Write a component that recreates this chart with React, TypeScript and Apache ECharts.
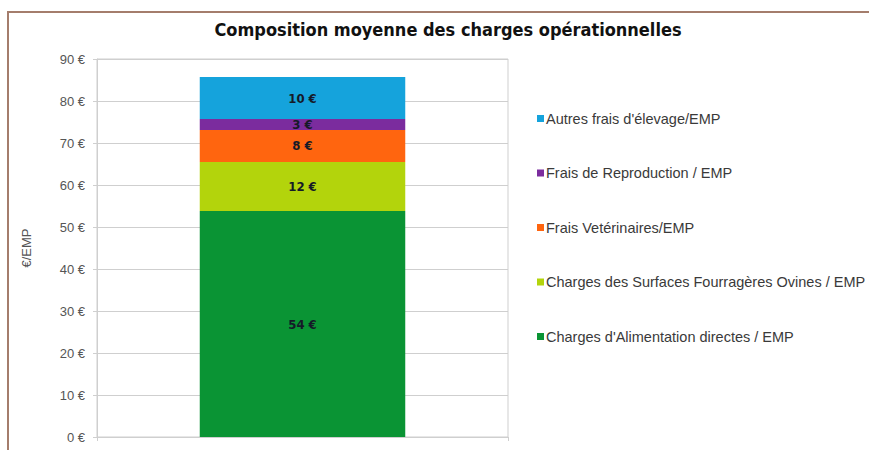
import React, { useEffect, useRef } from "react";
import * as echarts from "echarts";

const categories = [""];
const seriesNames = [
  "Charges d'Alimentation directes / EMP",
  "Charges des Surfaces Fourragères Ovines / EMP",
  "Frais Vetérinaires/EMP",
  "Frais de Reproduction / EMP",
  "Autres frais d'élevage/EMP",
];
const seriesValues = [53.8, 11.7, 7.6, 2.6, 10.0];
const seriesColors = ["#0a9434", "#b3d40c", "#ff650f", "#7b2c9e", "#15a3dc"];
const yTicks = [0, 10, 20, 30, 40, 50, 60, 70, 80, 90];

export default function App() {
  const ref = useRef<HTMLDivElement>(null);
  useEffect(() => {
    if (!ref.current) return;
    const chart = echarts.init(ref.current, undefined, { renderer: "svg" });
    chart.setOption({
      animation: false,
      backgroundColor: "#ffffff",
      title: {
        text: "Composition moyenne des charges opérationnelles",
        left: 443,
        top: 15,
        textAlign: "center",
        textStyle: {
          fontFamily: "'Liberation Sans Narrow', 'DejaVu Sans Condensed', sans-serif",
          fontWeight: "bold",
          fontSize: 18,
          color: "#111",
        },
      },
      graphic: [
        {
          type: "rect",
          shape: { x: 8, y: 12, width: 900, height: 500 },
          style: { fill: "none", stroke: "#a47d6c", lineWidth: 2 },
          silent: true,
        },
      ],
      grid: {
        left: 97,
        right: 361,
        top: 59,
        bottom: 13,
        show: true,
        borderColor: "#cfcfcf",
        borderWidth: 1,
      },
      legend: {
        orient: "vertical",
        left: 532,
        top: 106,
        itemGap: 39.5,
        itemWidth: 7,
        itemHeight: 7,
        icon: "rect",
        data: seriesNames.slice().reverse(),
        textStyle: {
          fontFamily: "'Liberation Sans', Arial, sans-serif",
          fontSize: 14.5,
          color: "#3a3a3a",
          padding: [0, 0, 0, -3],
        },
      },
      xAxis: {
        type: "category",
        data: categories,
        axisLabel: { show: false },
        axisTick: { show: true, length: 4, lineStyle: { color: "#cfcfcf" } },
        axisLine: { lineStyle: { color: "#cfcfcf" } },
      },
      yAxis: {
        type: "value",
        min: 0,
        max: 90,
        interval: 10,
        name: "€/EMP",
        nameLocation: "middle",
        nameGap: 64,
        nameTextStyle: {
          fontFamily: "'Liberation Sans', Arial, sans-serif",
          fontSize: 13,
          color: "#555",
        },
        axisLine: { show: true, lineStyle: { color: "#cfcfcf" } },
        axisTick: { show: true, length: 4, lineStyle: { color: "#cfcfcf" } },
        splitLine: { lineStyle: { color: "#cfcfcf" } },
        axisLabel: {
          fontFamily: "'Liberation Sans', Arial, sans-serif",
          fontSize: 13,
          color: "#555",
          margin: 12,
          formatter: (v: number) => (yTicks.includes(v) ? `${v} €` : ""),
        },
      },
      series: seriesNames.map((name, i) => ({
        name,
        type: "bar",
        stack: "total",
        barWidth: "50%",
        data: [seriesValues[i]],
        itemStyle: { color: seriesColors[i] },
        label: {
          show: true,
          position: "inside",
          fontFamily: "'Liberation Sans Narrow', 'DejaVu Sans Condensed', sans-serif",
          fontWeight: "bold",
          fontSize: 13,
          color: "#151a28",
          formatter: (p: any) => `${Math.round(p.value)} €`,
        },
      })),
    });
    return () => chart.dispose();
  }, []);
  return (
    <div
      ref={ref}
      style={{ position: "absolute", left: 0, top: 0, width: 869, height: 450 }}
    />
  );
}
